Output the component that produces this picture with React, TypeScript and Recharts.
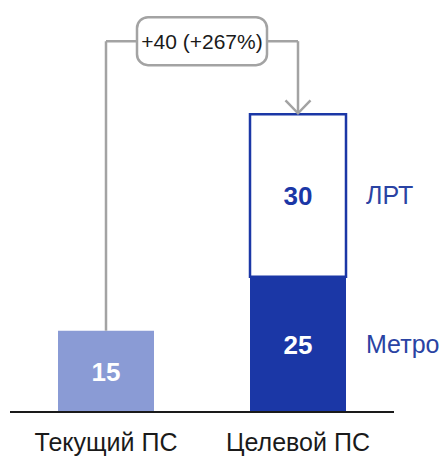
import { BarChart, Bar, XAxis, YAxis, LabelList, ReferenceLine } from 'recharts';

const categories = ['Текущий ПС', 'Целевой ПС'];
const currentValues = [15, null];
const metroValues = [null, 25];
const lrtValues = [null, 30];
const seriesNames = { metro: 'Метро', lrt: 'ЛРТ' };

const FONT = '"Liberation Sans", Arial, sans-serif';
const LIGHT = '#8a9bd5';
const DARK = '#1b37a6';
const LABEL_BLUE = '#2a43a3';
const GRAY = '#a3a3a3';

const data = categories.map((name, i) => ({
  name,
  current: currentValues[i],
  metro: metroValues[i],
  lrt: lrtValues[i],
}));

// change from the current fleet to the target total
const currentTotal = currentValues[0] ?? 0;
const targetTotal = (metroValues[1] ?? 0) + (lrtValues[1] ?? 0);
const delta = targetTotal - currentTotal;
const deltaText = `+${delta} (+${Math.round((delta / currentTotal) * 100)}%)`;
const BRACKET_LEVEL = 68.5;

const valueLabel = (color: string) => (props: any) => {
  const { x, y, width, height, value } = props;
  if (value == null) return null;
  return (
    <text
      x={x + width / 2}
      y={y + height / 2}
      dy="0.36em"
      textAnchor="middle"
      fill={color}
      fontFamily={FONT}
      fontWeight="bold"
      fontSize={26}
    >
      {value}
    </text>
  );
};

const seriesLabel = (text: string) => (props: any) => {
  const { x, y, width, height, value } = props;
  if (value == null) return null;
  return (
    <text
      x={x + width + 20}
      y={y + height / 2}
      dy="0.36em"
      fill={LABEL_BLUE}
      fontFamily={FONT}
      fontSize={25}
    >
      {text}
    </text>
  );
};

const AxisTick = (props: any) => {
  const { x, y, payload } = props;
  return (
    <text x={x} y={y + 39} textAnchor="middle" fill="#1a1a1a" fontFamily={FONT} fontSize={25}>
      {payload.value}
    </text>
  );
};

const BracketTop = (props: any) => {
  const { x1, y1, x2 } = props;
  const cx = (x1 + x2) / 2;
  return (
    <g>
      <line x1={x1} y1={y1} x2={x2} y2={y1} stroke={GRAY} strokeWidth={2.5} />
      <rect x={cx - 65} y={y1 - 24} width={130} height={48} rx={11} fill="#fff" stroke={GRAY} strokeWidth={2.5} />
      <text x={cx} y={y1} dy="0.36em" textAnchor="middle" fill="#1a1a1a" fontFamily={FONT} fontSize={21}>
        {deltaText}
      </text>
    </g>
  );
};

const ArrowDown = (props: any) => {
  const { x1, y1, x2, y2 } = props;
  const top = Math.min(y1, y2);
  const tip = Math.max(y1, y2);
  return (
    <g fill="none" stroke={GRAY} strokeWidth={2.5}>
      <line x1={x1} y1={top} x2={x2} y2={tip - 1} />
      <polyline points={`${x1 - 12.5},${tip - 14} ${x1},${tip - 1} ${x1 + 12.5},${tip - 14}`} />
    </g>
  );
};

export default function App() {
  return (
    <div style={{ position: 'absolute', left: 0, top: 0, width: 448, height: 456, background: '#fff' }}>
      <BarChart
        width={448}
        height={456}
        data={data}
        margin={{ top: 6, right: 54, left: 10, bottom: 0 }}
      >
        <XAxis
          dataKey="name"
          height={44}
          tickLine={false}
          tickSize={0}
          tickMargin={0}
          axisLine={{ stroke: '#1a1a1a', strokeWidth: 2 }}
          tick={<AxisTick />}
        />
        <YAxis hide domain={[0, 75]} />
        <Bar dataKey="current" stackId="a" fill={LIGHT} barSize={96} isAnimationActive={false}>
          <LabelList dataKey="current" content={valueLabel('#ffffff')} />
        </Bar>
        <Bar dataKey="metro" stackId="a" fill={DARK} barSize={96} isAnimationActive={false}>
          <LabelList dataKey="metro" content={valueLabel('#ffffff')} />
          <LabelList dataKey="metro" content={seriesLabel(seriesNames.metro)} />
        </Bar>
        <Bar
          dataKey="lrt"
          stackId="a"
          fill="#ffffff"
          stroke={DARK}
          strokeWidth={2.5}
          barSize={96}
          isAnimationActive={false}
        >
          <LabelList dataKey="lrt" content={valueLabel(DARK)} />
          <LabelList dataKey="lrt" content={seriesLabel(seriesNames.lrt)} />
        </Bar>
        <ReferenceLine
          segment={[
            { x: categories[0], y: currentTotal },
            { x: categories[0], y: BRACKET_LEVEL },
          ]}
          stroke={GRAY}
          strokeWidth={2.5}
        />
        <ReferenceLine
          segment={[
            { x: categories[0], y: BRACKET_LEVEL },
            { x: categories[1], y: BRACKET_LEVEL },
          ]}
          shape={<BracketTop />}
        />
        <ReferenceLine
          segment={[
            { x: categories[1], y: BRACKET_LEVEL },
            { x: categories[1], y: targetTotal },
          ]}
          shape={<ArrowDown />}
        />
      </BarChart>
    </div>
  );
}
